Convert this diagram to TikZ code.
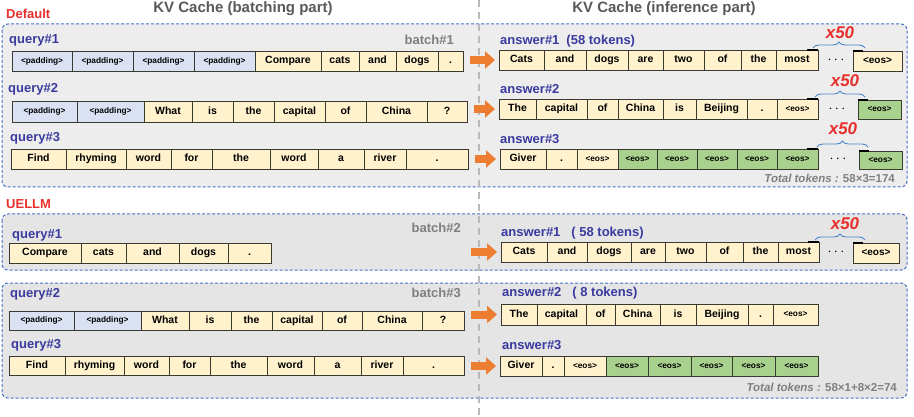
\documentclass[tikz,border=0pt]{standalone}
\usepackage{fontspec}
\setmainfont{Liberation Sans}
\usetikzlibrary{arrows.meta,decorations.pathreplacing}
\definecolor{yelc}{HTML}{FFF2CC}
\definecolor{padc}{HTML}{D9E1F2}
\definecolor{grnc}{HTML}{A9D18E}
\definecolor{cellb}{HTML}{3A3A30}
\definecolor{lblc}{HTML}{3A3AA0}
\definecolor{redc}{HTML}{E8302C}
\definecolor{grayt}{HTML}{7F7F7F}
\definecolor{titc}{HTML}{595959}
\definecolor{boxb}{HTML}{4472C4}
\definecolor{orangec}{HTML}{ED7D31}
\definecolor{bracec}{HTML}{4A86C8}
\tikzset{
  cell/.style={draw=cellb, line width=0.9pt, inner sep=0pt, outer sep=0pt,
    font=\fontsize{10.5}{12}\selectfont\bfseries, text=black, text height=7.6pt, text depth=2pt},
  yel/.style={fill=yelc},
  yels/.style={fill=yelc, font=\fontsize{8.3}{9}\selectfont\bfseries, text height=6pt, text depth=1.5pt},
  yelm/.style={fill=yelc, font=\fontsize{10}{11}\selectfont\bfseries},
  pad/.style={fill=padc, font=\fontsize{8.3}{9}\selectfont\bfseries, text height=6pt, text depth=1.5pt},
  grn/.style={fill=grnc, font=\fontsize{8.3}{9}\selectfont\bfseries, text height=6pt, text depth=1.5pt},
  lbl/.style={anchor=west, inner sep=0pt, font=\fontsize{13}{15}\selectfont\bfseries, text=lblc},
  blbl/.style={anchor=east, inner sep=0pt, font=\fontsize{13}{15}\selectfont\bfseries, text=grayt},
  redlbl/.style={anchor=west, inner sep=0pt, font=\fontsize{13}{15}\selectfont\bfseries, text=redc},
  ttl/.style={inner sep=0pt, font=\fontsize{15}{17}\selectfont\bfseries, text=titc},
  tot/.style={anchor=east, inner sep=0pt, font=\fontsize{11.5}{13}\selectfont\bfseries, text=grayt},
  xfifty/.style={inner sep=0pt, font=\fontsize{17}{19}\selectfont\bfseries\itshape, text=redc},
  grpbox/.style={draw=boxb, line width=1pt, dash pattern=on 3pt off 2pt, rounded corners=6pt},
  bigarrow/.style={draw=orangec, line width=8pt, -{Triangle[length=10pt,width=17pt]}, shorten <=7pt, shorten >=4pt},
  brc/.style={draw=bracec, line width=0.9pt, decorate, decoration={brace, amplitude=6pt}},
  tick/.style={draw=black, line width=1.6pt},
  dotsn/.style={inner sep=0pt, font=\fontsize{14}{16}\selectfont},
}
\newcommand\tokrow[4]{%
  \foreach \ca/\cb/\cs/\ct [count=\i] in {#4}{%
    \pgfmathsetmacro\cw{\cb-\ca}%
    \pgfmathsetmacro\cx{(\ca+\cb)/2}%
    \pgfmathsetmacro\ch{#3-#2}%
    \pgfmathsetmacro\cy{(#2+#3)/2}%
    \node[cell,\cs,minimum width=\cw pt,minimum height=\ch pt] (#1\i) at (\cx,\cy) {\ct};
  }}
\begin{document}
\begin{tikzpicture}[x=1pt,y=-1pt]
\useasboundingbox (0,0) rectangle (914,417);
\fill[white] (0,0) rectangle (914,417);

% group boxes
\draw[grpbox, fill=gray!14] (2,24) rectangle (907,187);
\draw[grpbox, fill=gray!20] (2,214) rectangle (907,270);
\draw[grpbox, fill=gray!20] (2,283) rectangle (907,398);

% divider
\draw[gray!55, line width=1.2pt, dash pattern=on 7pt off 5pt] (479,0) -- (479,417);

% titles
\node[ttl] (t1) at (243,9) {KV Cache (batching part)};
\node[ttl] (t2) at (664,9) {KV Cache (inference part)};
\node[redlbl] (def) at (6,14) {Default};
\node[redlbl] (uel) at (6,204) {UELLM};

% labels
\node[lbl] (lq1) at (9,40) {query\#1};
\node[lbl] (la1) at (500,41) {answer\#1\hspace{7pt}(58 tokens)};
\node[blbl] (b1) at (454,40) {batch\#1};
\node[lbl] (lq2) at (8,89) {query\#2};
\node[lbl] (la2) at (500,89) {answer\#2};
\node[lbl] (lq3) at (10,138) {query\#3};
\node[lbl] (la3) at (500,139) {answer\#3};
\node[lbl] (ulq1) at (12,235) {query\#1};
\node[lbl] (ula1) at (501,233) {answer\#1\hspace{11pt}( 58 tokens)};
\node[blbl] (b2) at (461,228) {batch\#2};
\node[lbl] (ulq2) at (10,294) {query\#2};
\node[blbl] (b3) at (461,293) {batch\#3};
\node[lbl] (ula2) at (502,293) {answer\#2\hspace{11pt}( 8 tokens)};
\node[lbl] (ulq3) at (11,345) {query\#3};
\node[lbl] (ula3) at (502,345) {answer\#3};

% Default rows
\tokrow{q1r}{51}{71}{12/72/pad/<padding>,72/133/pad/<padding>,133/194/pad/<padding>,194/255/pad/<padding>,255/321/yel/Compare,321/359/yel/cats,359/396/yel/and,396/438/yel/dogs,438/463/yel/.}
\tokrow{a1r}{50}{70}{499/544/yel/Cats,544/586/yel/and,586/628/yel/dogs,628/663/yel/are,663/704/yel/two,704/741/yel/of,741/776/yel/the,776/818/yel/most}
\tokrow{a1e}{51}{71}{853/902/yelm/<eos>}
\tokrow{q2r}{101}{122}{12/77/pad/<padding>,77/144/pad/<padding>,144/192/yel/What,192/233/yel/is,233/274/yel/the,274/325/yel/capital,325/366/yel/of,366/427/yel/China,427/467/yel/?}
\tokrow{a2r}{99}{119}{499/536/yel/The,536/587/yel/capital,587/618/yel/of,618/663/yel/China,663/696/yel/is,696/747/yel/Beijing,747/777/yel/.,777/818/yels/<eos>}
\tokrow{a2e}{100}{119}{858/901/grn/<eos>}
\tokrow{q3r}{149}{169}{11/66/yel/Find,66/126/yel/rhyming,126/171/yel/word,171/212/yel/for,212/270/yel/the,270/318/yel/word,318/364/yel/a,364/406/yel/river,406/468/yel/.}
\tokrow{a3r}{149}{169}{500/546/yel/Giver,546/577/yel/.,577/618/yels/<eos>,618/657/grn/<eos>,657/697/grn/<eos>,697/737/grn/<eos>,737/777/grn/<eos>,777/818/grn/<eos>}
\tokrow{a3e}{151}{169}{859/902/grn/<eos>}

% UELLM rows
\tokrow{uq1r}{243}{263}{9/81/yel/Compare,81/126/yel/cats,126/179/yel/and,179/228/yel/dogs,228/271/yel/.}
\tokrow{ua1r}{242}{262}{501/547/yel/Cats,547/587/yel/and,587/631/yel/dogs,631/665/yel/are,665/706/yel/two,706/743/yel/of,743/778/yel/the,778/819/yel/most}
\tokrow{ua1e}{243}{263}{853/899/yelm/<eos>}
\tokrow{uq2r}{311}{330}{9/74/pad/<padding>,74/141/pad/<padding>,141/189/yel/What,189/231/yel/is,231/272/yel/the,272/322/yel/capital,322/362/yel/of,362/422/yel/China,422/464/yel/?}
\tokrow{uq3r}{356}{375}{9/65/yel/Find,65/124/yel/rhyming,124/169/yel/word,169/210/yel/for,210/267/yel/the,267/314/yel/word,314/361/yel/a,361/403/yel/river,403/464/yel/.}
\tokrow{ua2r}{304}{325}{501/537/yel/The,537/586/yel/capital,586/615/yel/of,615/660/yel/China,660/696/yel/is,696/748/yel/Beijing,748/773/yel/.,773/818/yels/<eos>}
\tokrow{ua3r}{356}{376}{500/542/yel/Giver,542/564/yel/.,564/606/yels/<eos>,606/648/grn/<eos>,648/691/grn/<eos>,691/732/grn/<eos>,732/775/grn/<eos>,775/818/grn/<eos>}

% arrows
\draw[bigarrow] (q1r9.east |- a1r1.west) -- (a1r1.west);
\draw[bigarrow] (q2r9.east |- a2r1.west) -- (a2r1.west);
\draw[bigarrow] (q3r9.east |- a3r1.west) -- (a3r1.west);
\coordinate (u1s) at (471,252);
\draw[bigarrow, shorten <=0pt] (u1s) -- (ua1r1.west);
\draw[bigarrow] (uq2r9.east |- ua2r1.west) -- (ua2r1.west);
\draw[bigarrow] (uq3r9.east |- ua3r1.west) -- (ua3r1.west);

% dots
\node[dotsn] (d1) at (836,60) {$\cdots$};
\node[dotsn] (d2) at (837,109) {$\cdots$};
\node[dotsn] (d3) at (838,159) {$\cdots$};
\node[dotsn] (d4) at (836,252) {$\cdots$};

% ticks near braces
\draw[tick] (a1r8.north east) -- ++(-11,0);
\draw[tick] (a1e1.north west) -- ++(10,0);
\draw[tick] (a2r8.north east) -- ++(-11,0);
\draw[tick] (a2e1.north west) -- ++(10,0);
\draw[tick] (a3r8.north east) -- ++(-11,0);
\draw[tick] (a3e1.north west) -- ++(10,0);
\draw[tick] (ua1r8.north east) -- ++(-11,0);
\draw[tick] (ua1e1.north west) -- ++(10,0);

% braces
\draw[brc] (813,48) -- (865,48);
\draw[brc] (815,97) -- (865,97);
\draw[brc] (817,147) -- (868,147);
\draw[brc] (815,240) -- (865,240);
\node[xfifty] (x1) at (840,33) {x50};
\node[xfifty] (x2) at (845,81) {x50};
\node[xfifty] (x3) at (843,129) {x50};
\node[xfifty] (x4) at (845,224) {x50};

% totals
\node[tot] (tt1) at (895,178) {\textit{Total tokens :} 58×3=174};
\node[tot] (tt2) at (897,387) {\textit{Total tokens :} 58×1+8×2=74};
\end{tikzpicture}
\end{document}
